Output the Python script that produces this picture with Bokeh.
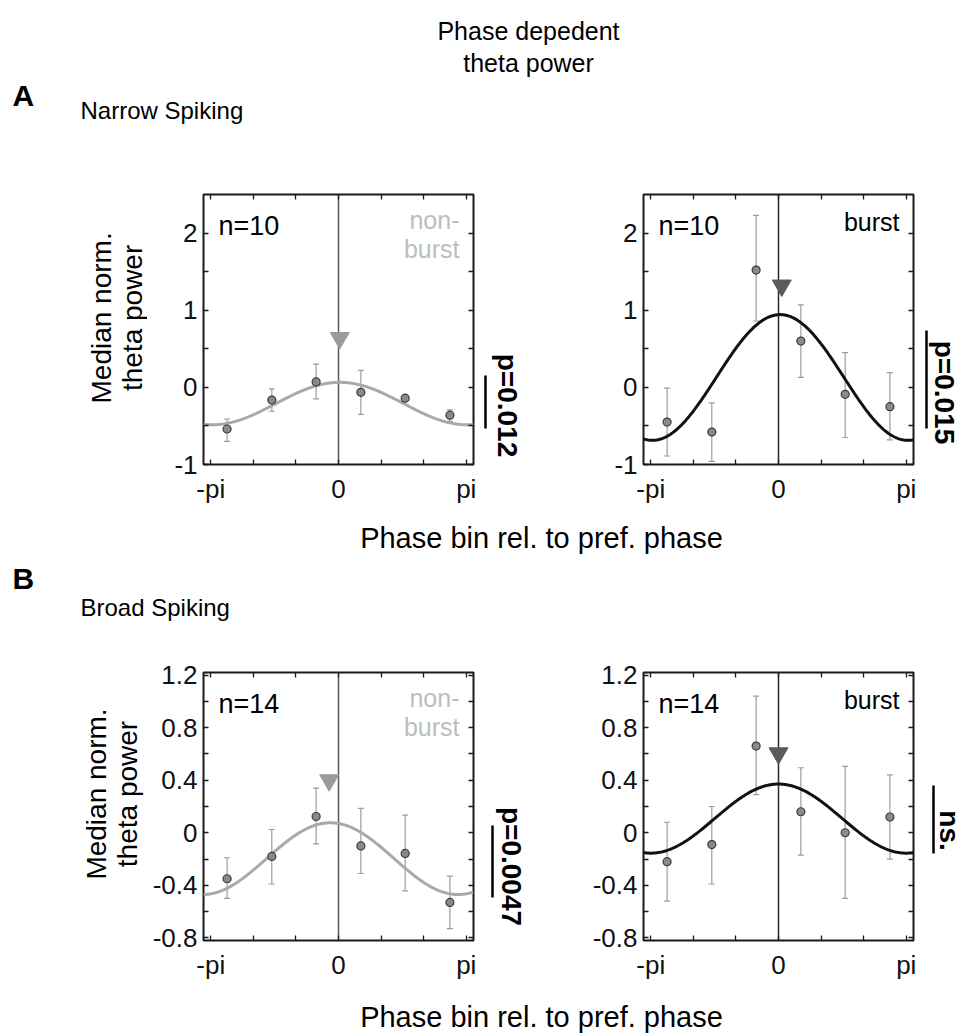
import numpy as np
from bokeh.plotting import figure
from bokeh.layouts import column, row
from bokeh.models import (Range1d, LinearAxis, FixedTicker, CustomJSTickFormatter,
                          Span, Whisker, TeeHead, ColumnDataSource)
from bokeh.core.properties import value
from bokeh.embed import file_html
from bokeh.resources import INLINE

FONT = "Liberation Sans"

# ---------------- data ----------------
phase_bin_centers = [-2.74, -1.64, -0.55, 0.55, 1.64, 2.74]

# A: narrow spiking
ns_nonburst_median = [-0.54, -0.165, 0.07, -0.065, -0.14, -0.36]
ns_nonburst_upper = [-0.41, -0.02, 0.30, 0.22, -0.11, -0.29]
ns_nonburst_lower = [-0.70, -0.31, -0.15, -0.35, -0.17, -0.44]
ns_burst_median = [-0.45, -0.58, 1.52, 0.60, -0.09, -0.25]
ns_burst_upper = [-0.01, -0.20, 2.23, 1.07, 0.45, 0.19]
ns_burst_lower = [-0.89, -0.96, 0.86, 0.13, -0.65, -0.68]
# B: broad spiking
bs_nonburst_median = [-0.35, -0.18, 0.124, -0.10, -0.157, -0.53]
bs_nonburst_upper = [-0.19, 0.025, 0.34, 0.185, 0.134, -0.33]
bs_nonburst_lower = [-0.50, -0.39, -0.084, -0.31, -0.443, -0.73]
bs_burst_median = [-0.22, -0.09, 0.66, 0.16, 0.0, 0.12]
bs_burst_upper = [0.08, 0.20, 1.04, 0.495, 0.505, 0.44]
bs_burst_lower = [-0.52, -0.39, 0.29, -0.17, -0.50, -0.20]

# cosine fits (order: NS non-burst, NS burst, BS non-burst, BS burst)
fit_offset = [-0.21, 0.128, -0.197, 0.108]
fit_amplitude = [0.275, 0.815, 0.273, 0.263]
fit_peak_phase = [0.03, 0.04, -0.20, 0.0]
triangle_phase = [0.03, 0.08, -0.23, 0.0]
triangle_level = [0.64, 1.32, 0.40, 0.605]
n_cells = ["n=10", "n=10", "n=14", "n=14"]
p_labels = ["p=0.012", "p=0.015", "p=0.0047", "ns."]
scalebar_top = [0.154, 0.737, 0.055, 0.36]
scalebar_bottom = [-0.533, -0.533, -0.493, -0.158]

x_tick_values = [-np.pi, 0.0, np.pi]
x_tick_labels = ["-pi", "0", "pi"]
x_minor_ticks = [-2 * np.pi / 3, -np.pi / 3, np.pi / 3, 2 * np.pi / 3]
ns_y_ticks = [-1, 0, 1, 2]
ns_y_minor = [-0.5, 0.5, 1.5]
bs_y_ticks = [-0.8, -0.4, 0, 0.4, 0.8, 1.2]
bs_y_minor = [-0.6, -0.2, 0.2, 0.6, 1.0]

XR = (-3.32, 3.32)
NS_YR = (-1.0, 2.5)
BS_YR = (-0.82, 1.22)

FRAME_COLOR = "#1a1a1a"
TICK_FONT = "26px"


def no_grid(p):
    p.xgrid.visible = False
    p.ygrid.visible = False


def add_text(p, x, y, t, size, align="left", color="black", bold=False, angle=0.0):
    p.text(x=[x], y=[y], text=[t], text_font=value(FONT), text_font_size=size,
           text_align=align, text_baseline="middle", text_color=color,
           text_font_style="bold" if bold else "normal", angle=angle)


def text_fig(w, h, x0, y0):
    # data coordinates equal page pixels (y downwards)
    p = figure(width=w, height=h, x_range=Range1d(x0, x0 + w), y_range=Range1d(y0 + h, y0),
               x_axis_location=None, y_axis_location=None, min_border=0,
               toolbar_location=None, output_backend="svg")
    p.outline_line_color = None
    no_grid(p)
    return p


def style_axis(ax, standoff=8):
    ax.axis_line_color = None
    ax.major_tick_in = 5
    ax.major_tick_out = 0
    ax.minor_tick_in = 5
    ax.minor_tick_out = 0
    ax.major_tick_line_color = FRAME_COLOR
    ax.minor_tick_line_color = FRAME_COLOR
    ax.major_tick_line_width = 1.3
    ax.minor_tick_line_width = 1.3
    ax.major_label_text_font = FONT
    ax.major_label_text_font_size = TICK_FONT
    ax.major_label_text_color = "#111111"
    ax.major_label_standoff = standoff


def make_panel(spec):
    yr = spec["yr"]
    p = figure(width=spec["w"], height=spec["h"], x_range=Range1d(*XR), y_range=Range1d(*yr),
               x_axis_location=None, y_axis_location=None,
               min_border_left=spec["bl"], min_border_right=10,
               min_border_top=spec["bt"], min_border_bottom=spec["bb"],
               toolbar_location=None, output_backend="svg")
    no_grid(p)
    p.outline_line_color = FRAME_COLOR
    p.outline_line_width = 2

    xfmt = CustomJSTickFormatter(args=dict(tvals=x_tick_values, tlabels=x_tick_labels), code="""
        for (let i = 0; i < tvals.length; i++) {
            if (Math.abs(tick - tvals[i]) < 1e-6) { return tlabels[i]; }
        }
        return '';
    """)
    yfmt = CustomJSTickFormatter(code="""
        const r = Math.round(tick * 10) / 10;
        return String(r);
    """)
    xb = LinearAxis(ticker=FixedTicker(ticks=x_tick_values, minor_ticks=x_minor_ticks), formatter=xfmt)
    style_axis(xb, spec["xstand"])
    p.add_layout(xb, "below")
    xt = LinearAxis(ticker=FixedTicker(ticks=[], minor_ticks=x_tick_values + x_minor_ticks))
    style_axis(xt)
    p.add_layout(xt, "above")
    yl = LinearAxis(ticker=FixedTicker(ticks=spec["ymaj"], minor_ticks=spec["ymin"]), formatter=yfmt)
    style_axis(yl, 6)
    p.add_layout(yl, "left")
    yr_ax = LinearAxis(ticker=FixedTicker(ticks=[], minor_ticks=spec["ymaj"] + spec["ymin"]))
    style_axis(yr_ax)
    p.add_layout(yr_ax, "right")

    i = spec["i"]
    p.add_layout(Span(location=0, dimension="height", line_color=spec["zero_color"],
                      line_width=1.5, level="underlay"))
    xf = np.linspace(XR[0], XR[1], 300)
    yf = fit_offset[i] + fit_amplitude[i] * np.cos(xf - fit_peak_phase[i])
    p.line(xf, yf, line_color=spec["curve_color"], line_width=3)

    src = ColumnDataSource(dict(x=phase_bin_centers, m=spec["median"], lo=spec["lower"], hi=spec["upper"]))
    ebc = "#9c9c9c"
    p.add_layout(Whisker(source=src, base="x", upper="hi", lower="lo", line_color=ebc, line_width=1.2,
                         upper_head=TeeHead(size=6, line_color=ebc, line_width=1.2),
                         lower_head=TeeHead(size=6, line_color=ebc, line_width=1.2)))
    p.scatter("x", "m", source=src, size=8, fill_color="#8a8a8a", line_color="#3a3a3a", line_width=1.2)
    p.scatter([triangle_phase[i]], [triangle_level[i]], marker="inverted_triangle", size=19,
              fill_color=spec["tri_color"], line_color=spec["tri_color"])

    # in-frame texts (positions given on the page, mapped to data)
    def dx(px):
        return XR[0] + (px - spec["fl"]) / 270.0 * (XR[1] - XR[0])

    def dy(py):
        return yr[1] - (py - spec["ft"]) / spec["fh"] * (yr[1] - yr[0])

    add_text(p, dx(spec["fl"] + 15), dy(spec["ft"] + 31), n_cells[i], "27px")
    if spec["burst"]:
        add_text(p, dx(spec["fl"] + 256), dy(spec["ft"] + 27), "burst", "25px", align="right")
    else:
        add_text(p, dx(spec["fl"] + 256), dy(spec["ft"] + 25), "non-", "25px", align="right", color="#bdbdbd")
        add_text(p, dx(spec["fl"] + 256), dy(spec["ft"] + 54), "burst", "25px", align="right", color="#bdbdbd")
    spec["dy"] = dy
    return p


def make_side(spec, x0, w, bar_x, text_x, text_y):
    i = spec["i"]
    yr = spec["yr"]
    p = figure(width=w, height=spec["h"], x_range=Range1d(x0, x0 + w), y_range=Range1d(*yr),
               x_axis_location=None, y_axis_location=None,
               min_border_left=0, min_border_right=0,
               min_border_top=spec["bt"], min_border_bottom=spec["bb"],
               toolbar_location=None, output_backend="svg")
    no_grid(p)
    p.outline_line_color = None
    p.segment(x0=[bar_x], y0=[scalebar_bottom[i]], x1=[bar_x], y1=[scalebar_top[i]],
              line_color="black", line_width=2.5)
    add_text(p, text_x, spec["dy"](text_y), p_labels[i], "28px", align="center", bold=True,
             angle=-np.pi / 2)
    return p


# page layout (page pixels; body margin is 0)
rowA = dict(h=326, bt=14, bb=42, yr=NS_YR, ymaj=ns_y_ticks, ymin=ns_y_minor, ft=194, fh=270, xstand=9)
rowB = dict(h=322, bt=12, bb=42, yr=BS_YR, ymaj=bs_y_ticks, ymin=bs_y_minor, ft=672, fh=268, xstand=9)

YL_W = 147
specs = [
    dict(rowA, i=0, w=483 - YL_W, bl=203 - YL_W, fl=203, median=ns_nonburst_median, upper=ns_nonburst_upper,
         lower=ns_nonburst_lower, zero_color="#5a5a5a", curve_color="#a9a9a9", tri_color="#9b9b9b", burst=False),
    dict(rowA, i=1, w=363, bl=83, fl=643, median=ns_burst_median, upper=ns_burst_upper,
         lower=ns_burst_lower, zero_color="#2a2a2a", curve_color="#111111", tri_color="#5a5a5a", burst=True),
    dict(rowB, i=2, w=483 - YL_W, bl=203 - YL_W, fl=203, median=bs_nonburst_median, upper=bs_nonburst_upper,
         lower=bs_nonburst_lower, zero_color="#5a5a5a", curve_color="#a9a9a9", tri_color="#9b9b9b", burst=False),
    dict(rowB, i=3, w=363, bl=83, fl=643, median=bs_burst_median, upper=bs_burst_upper,
         lower=bs_burst_lower, zero_color="#2a2a2a", curve_color="#111111", tri_color="#5a5a5a", burst=True),
]

panels = [make_panel(s) for s in specs]
sides = [
    make_side(specs[0], 483, 77, 485, 507, 405),
    make_side(specs[1], 923, 41, 926, 944, 392),
    make_side(specs[2], 483, 77, 492, 511, 866),
    make_side(specs[3], 923, 41, 933, 949, 830),
]

# y-axis label figures
ylA = text_fig(YL_W, 326, 0, 180)
add_text(ylA, 101, 329, "Median norm.", "28px", align="center", angle=np.pi / 2)
add_text(ylA, 132, 329, "theta power", "28px", align="center", angle=np.pi / 2)
ylB = text_fig(YL_W, 322, 0, 660)
add_text(ylB, 96, 806, "Median norm.", "28px", align="center", angle=np.pi / 2)
add_text(ylB, 127, 806, "theta power", "28px", align="center", angle=np.pi / 2)

header = text_fig(964, 180, 0, 0)
add_text(header, 528, 30, "Phase depedent", "25px", align="center")
add_text(header, 528, 62, "theta power", "25px", align="center")
add_text(header, 12, 95, "A", "30px", bold=True)
add_text(header, 80, 110, "Narrow Spiking", "24px")

mid = text_fig(964, 154, 0, 506)
add_text(mid, 541, 537, "Phase bin rel. to pref. phase", "29px", align="center")
add_text(mid, 12, 578, "B", "30px", bold=True)
add_text(mid, 80, 607, "Broad Spiking", "24px")

bottom = text_fig(964, 53, 0, 982)
add_text(bottom, 541, 1016, "Phase bin rel. to pref. phase", "29px", align="center")

layout = column(
    header,
    row(ylA, panels[0], sides[0], panels[1], sides[1], spacing=0),
    mid,
    row(ylB, panels[2], sides[2], panels[3], sides[3], spacing=0),
    bottom,
    spacing=0,
)

open("out.html", "w").write(file_html(layout, INLINE))
